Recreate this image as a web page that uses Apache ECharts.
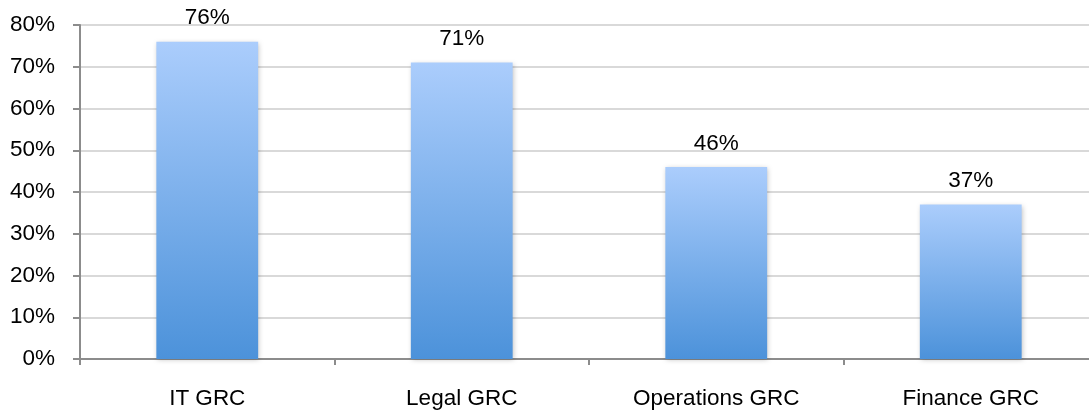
<!DOCTYPE html>
<html>
<head>
<meta charset="utf-8">
<script src="https://cdn.jsdelivr.net/npm/echarts@6/dist/echarts.min.js"></script>
<style>
  html, body { margin: 0; padding: 0; background: #fff; overflow: hidden; }
  /* plot area runs slightly past the right edge of the window */
  #chart { width: 1100px; height: 410px; }
</style>
</head>
<body>
<div id="chart"></div>
<script>
// GRC area adoption shares
const categories = ['IT GRC', 'Legal GRC', 'Operations GRC', 'Finance GRC'];
const shares = [76, 71, 46, 37];
const yTicks = { min: 0, max: 80, interval: 10 };

const chart = echarts.init(document.getElementById('chart'));
const font = 'Liberation Sans, Arial, Helvetica, sans-serif';

chart.setOption({
  animation: false,
  grid: { left: 80, right: 2, top: 25, bottom: 51, containLabel: false },
  xAxis: {
    type: 'category',
    data: categories,
    axisLine: { lineStyle: { color: '#8c8c8c', width: 2 } },
    axisTick: { show: true, length: 6, lineStyle: { color: '#8c8c8c', width: 2 } },
    axisLabel: { color: '#000', fontSize: 22.5, fontFamily: font, margin: 28 }
  },
  yAxis: {
    type: 'value',
    min: yTicks.min,
    max: yTicks.max,
    interval: yTicks.interval,
    axisLine: { show: true, lineStyle: { color: '#8c8c8c', width: 2 } },
    axisTick: { show: true, length: 7, lineStyle: { color: '#8c8c8c', width: 2 } },
    splitLine: { lineStyle: { color: '#d9d9d9', width: 2 } },
    axisLabel: { color: '#000', fontSize: 22.5, fontFamily: font, margin: 25, formatter: '{value}%' }
  },
  series: [{
    type: 'bar',
    data: shares,
    barWidth: '40%',
    itemStyle: {
      color: new echarts.graphic.LinearGradient(0, 0, 0, 1, [
        { offset: 0, color: '#abcdfc' },
        { offset: 1, color: '#4c92da' }
      ]),
      shadowBlur: 5,
      shadowColor: 'rgba(0,0,0,0.25)',
      shadowOffsetX: 1,
      shadowOffsetY: 1
    },
    label: {
      show: true,
      position: 'top',
      distance: 12,
      color: '#000',
      fontSize: 22.5,
      fontFamily: font,
      formatter: '{c}%'
    }
  }]
});
</script>
</body>
</html>
